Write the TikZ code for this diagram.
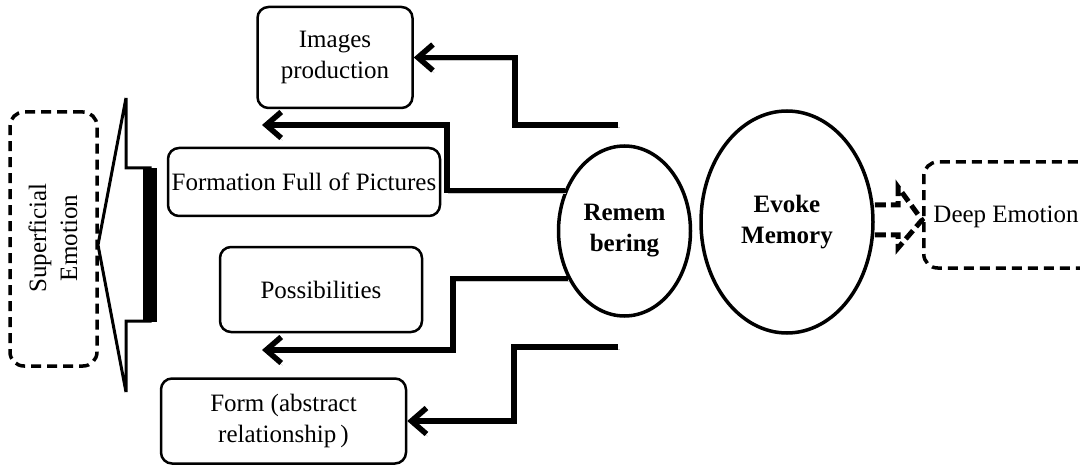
\documentclass[tikz,border=0pt]{standalone}
\usepackage{fontspec}
\setmainfont{Liberation Serif}
\usetikzlibrary{arrows.meta,shapes.geometric}
\begin{document}
\begin{tikzpicture}[x=1pt,y=-1pt,
  box/.style={draw, line width=2.5pt, rounded corners=11pt, align=center,
    inner sep=0pt, font=\fontsize{25}{31}\selectfont},
  dashbox/.style={draw, line width=3.5pt, rounded corners=14pt,
    dash pattern=on 10pt off 6pt, inner sep=0pt},
  label/.style={align=center, inner sep=0pt, font=\fontsize{25}{31}\selectfont},
  oval/.style={draw, ellipse, line width=3.5pt, inner sep=0pt, align=center,
    font=\bfseries\fontsize{25}{31}\selectfont},
  conn/.style={line width=5.5pt, -{Straight Barb[length=15pt,width=26pt]},
    preaction={draw=black!22, transform canvas={shift={(1.5pt,-2.5pt)}}}},
]
\clip (0,0) rectangle (1080,468);

% result boxes on the left
\node[box, minimum width=155, minimum height=101] (img) at (335,57.5) {Images\\production};
\node[box, minimum width=272, minimum height=68] (full) at (304,182) {Formation Full of Pictures};
\node[box, minimum width=202, minimum height=85] (poss) at (321,289.5) {Possibilities};
\node[box, minimum width=245, minimum height=85] (form) at (283.5,421) {Form (abstract\\relationship\,)};

% central ovals
\node[oval, minimum width=132, minimum height=170] (rem) at (624.5,231) {Remem\\bering};
\node[oval, minimum width=172, minimum height=222] (ev) at (787,222) {Evoke\\Memory};

% superficial emotion: dashed box and big hollow arrow
\node[dashbox, minimum width=87, minimum height=254] (sup) at (53.5,239) {};
\node[label, rotate=90] (suptext) at (53,238) {Superficial\\Emotion};
\draw[line width=3pt, line join=miter] (98,245) -- (126,98) -- (126,168) -- (150,168)
  -- (150,321) -- (126,321) -- (126,392) -- cycle;
\fill (143,168) rectangle (157,322);

% deep emotion: dashed box and dashed hollow arrow
\node[dashbox, minimum width=200, minimum height=106, anchor=west] (deep) at (922,215) {};
\node[label] (deeptext) at (1006,217) {Deep Emotion};
\draw[line width=5pt, dash pattern=on 11pt off 5pt, line join=miter]
  (ev.east |- 0,205) -- (898,205) -- (898,187) -- (deep.west |- 0,220) -- (898,248)
  -- (898,235) -- (ev.east |- 0,235);

% stepped connectors
\coordinate (s1) at (618,125);
\coordinate (k1) at (515,125);
\draw[conn] (s1) -- (k1) |- (img.east);

\coordinate (k2) at (447,125);
\coordinate (e2) at (262,125);
\draw[conn] (rem.146) -| (k2) -- (e2);

\coordinate (k3) at (453,350);
\coordinate (e3) at (262,350);
\draw[conn] (rem.220) -| (k3) -- (e3);

\coordinate (s4) at (618,347);
\coordinate (k4) at (514,347);
\draw[conn] (s4) -- (k4) |- (form.east);
\end{tikzpicture}
\end{document}
